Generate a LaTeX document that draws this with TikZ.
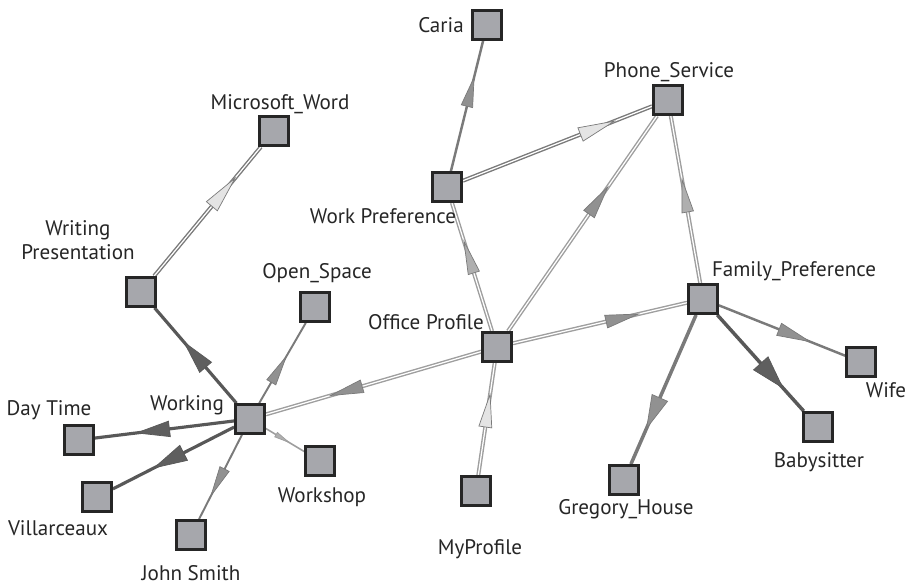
\documentclass[tikz,border=0pt]{standalone}
\usepackage{fontspec}
\setmainfont{PT Sans}
\usetikzlibrary{decorations.markings,backgrounds}

\definecolor{boxfill}{RGB}{166,167,172}
\definecolor{boxline}{RGB}{38,38,38}
\definecolor{edgedark}{RGB}{88,88,88}
\definecolor{edgemid}{RGB}{122,122,122}
\definecolor{edgelight}{RGB}{158,158,158}
\definecolor{tipdark}{RGB}{95,95,95}
\definecolor{tipmid}{RGB}{145,145,145}
\definecolor{tiplight}{RGB}{175,175,175}
\definecolor{tippale}{RGB}{228,228,228}

\begin{document}
\begin{tikzpicture}[x=0.02cm, y=-0.02cm,
	box/.style={draw=boxline, fill=boxfill, line width=1.6pt, minimum size=0.58cm, inner sep=0pt},
	lbl/.style={font=\fontsize{12}{13.5}\selectfont, text=black!85, inner sep=1pt, align=center},
	plainedge/.style={draw=#1, line width=1.4pt},
	dbledge/.style={draw=#1, line width=2.3pt, postaction={draw=white, line width=0.7pt}},
	midtip/.style n args={5}{postaction={decorate, decoration={markings,
		mark=at position #1 with {\filldraw[fill=#2, draw=#3, line width=0.4pt, xscale=#4, yscale=#5]
		(0,0) -- (-0.66cm,0.13cm) -- (-0.66cm,-0.13cm) -- cycle;}}}}]

	% marco
	\useasboundingbox (0,0) rectangle (907,585);

	% Cajas
	\node[box] (caria) at (487,25) {};
	\node[box] (phone) at (668,100) {};
	\node[box] (msword) at (274,131) {};
	\node[box] (wpref) at (447,187) {};
	\node[box] (wpres) at (141,292) {};
	\node[box] (ospace) at (315,307) {};
	\node[box] (office) at (497,347) {};
	\node[box] (family) at (703,299) {};
	\node[box] (wife) at (861,362) {};
	\node[box] (working) at (250,419) {};
	\node[box] (daytime) at (79,440) {};
	\node[box] (babysit) at (818,427) {};
	\node[box] (workshop) at (320,461) {};
	\node[box] (gregory) at (624,480) {};
	\node[box] (myprof) at (476,491) {};
	\node[box] (villa) at (97,497) {};
	\node[box] (john) at (191,535) {};

	% Etiquetas
	\node[lbl] (caria-l) at (441,25) {Caria};
	\node[lbl] (phone-l) at (669,72) {Phone\_Service};
	\node[lbl] (msword-l) at (280,104) {Microsoft\_Word};
	\node[lbl] (wpref-l) at (383,216) {Work Preference};
	\node[lbl] (wpres-l) at (78,240) {Writing\\Presentation};
	\node[lbl] (ospace-l) at (317,273) {Open\_Space};
	\node[lbl] (office-l) at (426,322) {Office Profile};
	\node[lbl] (family-l) at (794,271) {Family\_Preference};
	\node[lbl] (wife-l) at (886,390) {Wife};
	\node[lbl] (working-l) at (187,405) {Working};
	\node[lbl] (daytime-l) at (49,410) {Day Time};
	\node[lbl] (babysit-l) at (819,462) {Babysitter};
	\node[lbl] (workshop-l) at (322,497) {Workshop};
	\node[lbl] (gregory-l) at (626,509) {Gregory\_House};
	\node[lbl] (villa-l) at (58,528) {Villarceaux};
	\node[lbl] (myprof-l) at (480,549) {MyProfile};
	\node[lbl] (john-l) at (191,573) {John Smith};

	% Conexiones
	\begin{scope}[on background layer]
		\draw[dbledge=edgemid, midtip={0.76}{tippale}{edgemid}{1.1}{1.1}] (wpres) -- (msword);
		\draw[dbledge=edgemid, midtip={0.8}{tippale}{edgemid}{1.1}{1.1}] (wpref) -- (phone);
		\draw[plainedge=edgemid, midtip={0.72}{tipmid}{edgemid}{0.9}{0.9}] (wpref) -- (caria);
		\draw[dbledge=edgelight, midtip={0.7}{tiplight}{edgemid}{1}{0.9}] (office) -- (wpref);
		\draw[dbledge=edgelight, midtip={0.67}{tipmid}{edgemid}{1}{1}] (office) -- (phone);
		\draw[dbledge=edgelight, midtip={0.62}{tiplight}{edgemid}{1}{0.9}] (family) -- (phone);
		\draw[dbledge=edgelight, midtip={0.72}{tipmid}{edgemid}{1}{1}] (office) -- (family);
		\draw[dbledge=edgelight, midtip={0.72}{tippale}{edgemid}{1}{1}] (myprof) -- (office);
		\draw[dbledge=edgelight, midtip={0.7}{tipmid}{edgemid}{1}{1}] (office) -- (working);
		\draw[plainedge=edgemid, line width=2pt, midtip={0.76}{tipmid}{edgemid}{1}{1.3}] (family) -- (gregory);
		\draw[plainedge=edgedark, line width=2pt, midtip={0.76}{tipdark}{edgedark}{1}{1.5}] (family) -- (babysit);
		\draw[plainedge=edgemid, midtip={0.72}{tipmid}{edgemid}{1}{1}] (family) -- (wife);
		\draw[plainedge=edgedark, line width=1.8pt, midtip={0.64}{tipdark}{edgedark}{1}{1.2}] (working) -- (wpres);
		\draw[plainedge=edgedark, line width=1.8pt, midtip={0.7}{tipdark}{edgedark}{1}{1.2}] (working) -- (daytime);
		\draw[plainedge=edgedark, line width=1.8pt, midtip={0.66}{tipdark}{edgedark}{1}{1.3}] (working) -- (villa);
		\draw[plainedge=edgemid, line width=1.1pt, midtip={0.72}{tipmid}{edgemid}{0.9}{0.8}] (working) -- (john);
		\draw[plainedge=edgemid, line width=1.1pt, midtip={0.58}{tipmid}{edgemid}{0.9}{0.8}] (working) -- (ospace);
		\draw[plainedge=edgelight, line width=0.9pt, midtip={0.6}{tiplight}{edgelight}{0.45}{0.4}] (working) -- (workshop);
	\end{scope}

\end{tikzpicture}
\end{document}
